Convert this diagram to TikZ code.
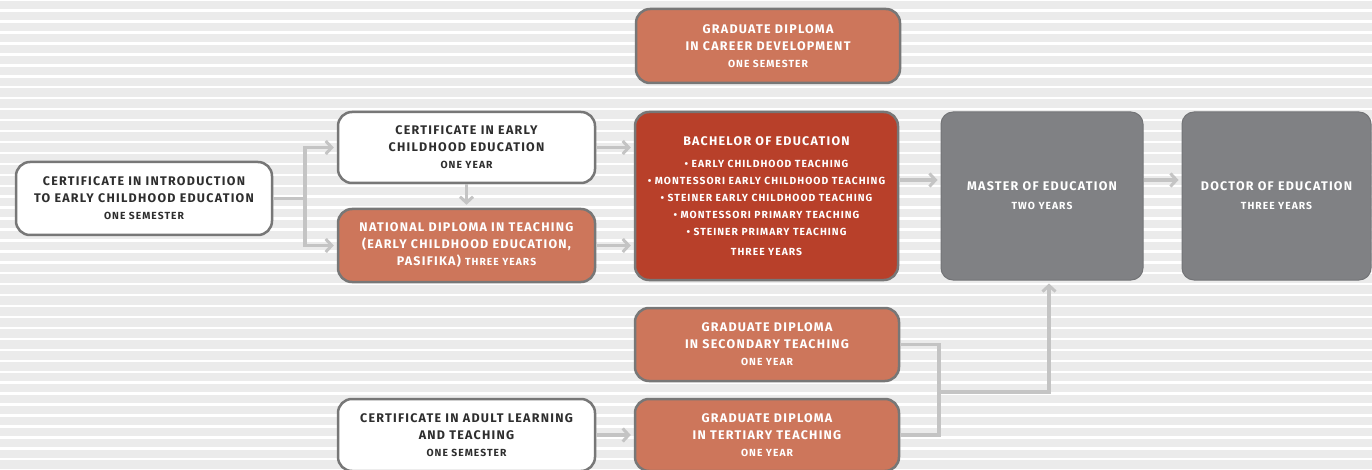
\documentclass[tikz,border=0pt]{standalone}
\usepackage{fontspec}
\setmainfont{Fira Sans}[LetterSpace=10]
\usetikzlibrary{arrows.meta}

\definecolor{stripegray}{HTML}{EBEBEB}
\definecolor{linkgray}{HTML}{C4C4C4}
\definecolor{boxedge}{HTML}{777777}
\definecolor{clayorange}{HTML}{CD765B}
\definecolor{brickred}{HTML}{B8402A}
\definecolor{slategray}{HTML}{808184}
\definecolor{inktext}{HTML}{2E2E2E}

\newcommand{\yrs}[1]{{\fontsize{10.3}{16}\selectfont #1}}

\begin{document}
\begin{tikzpicture}[x=1pt, y=-1pt,
    box/.style={draw=boxedge, line width=2.5pt, rounded corners=14pt, align=center,
        inner sep=0pt, font=\bfseries\fontsize{12.5}{17}\selectfont},
    plainbox/.style={box, fill=white, text=inktext},
    orangebox/.style={box, fill=clayorange, text=white},
    redbox/.style={box, fill=brickred, text=white},
    greybox/.style={box, draw=slategray!90!black, line width=1pt, fill=slategray, text=white,
        rounded corners=12pt},
    link/.style={draw=linkgray, line width=3.5pt},
    arrow/.style={link, -{Straight Barb[length=6pt, width=13pt, line width=3pt]}, shorten >=3pt}]

    % Background stripes
    \useasboundingbox (0,0) rectangle (1372,470);
    \clip (0,0) rectangle (1372,470);
    \fill[stripegray] (0,0) rectangle (1372,470);
    \foreach \k in {-1,...,43}
        \fill[white] (0,{10.7+10.94*\k-1.2}) rectangle (1372,{10.7+10.94*\k+1.2});

    % Boxes
    \node[orangebox, minimum width=264, minimum height=74] (career) at (768,46)
        {GRADUATE DIPLOMA\\IN CAREER DEVELOPMENT\\\yrs{ONE SEMESTER}};
    \node[plainbox, minimum width=256, minimum height=73] (intro) at (144,198.5)
        {CERTIFICATE IN INTRODUCTION\\TO EARLY CHILDHOOD EDUCATION\\\yrs{ONE SEMESTER}};
    \node[plainbox, minimum width=257, minimum height=71] (certece) at (466.5,147.5)
        {CERTIFICATE IN EARLY\\CHILDHOOD EDUCATION\\\yrs{ONE YEAR}};
    \node[orangebox, minimum width=257, minimum height=73] (natdip) at (466.5,245.5)
        {NATIONAL DIPLOMA IN TEACHING\\(EARLY CHILDHOOD EDUCATION,\\PASIFIKA) \yrs{THREE YEARS}};
    \node[redbox, minimum width=263, minimum height=168, font=\bfseries\fontsize{10.3}{17}\selectfont] (bachelor) at (766.5,196)
        {{\fontsize{12.5}{17}\selectfont BACHELOR OF EDUCATION}\\[5pt]
         • EARLY CHILDHOOD TEACHING\\
         • MONTESSORI EARLY CHILDHOOD TEACHING\\
         • STEINER EARLY CHILDHOOD TEACHING\\
         • MONTESSORI PRIMARY TEACHING\\
         • STEINER PRIMARY TEACHING\\[3pt]
         THREE YEARS};
    \node[greybox, minimum width=202, minimum height=168] (master) at (1042,196)
        {MASTER OF EDUCATION\\[2pt]\yrs{TWO YEARS}};
    \node[greybox, minimum width=189, minimum height=168] (doctor) at (1276.5,196)
        {DOCTOR OF EDUCATION\\[2pt]\yrs{THREE YEARS}};
    \node[orangebox, minimum width=264, minimum height=73] (secondary) at (767,344.5)
        {GRADUATE DIPLOMA\\IN SECONDARY TEACHING\\\yrs{ONE YEAR}};
    \node[orangebox, minimum width=264, minimum height=72] (tertiary) at (767,435)
        {GRADUATE DIPLOMA\\IN TERTIARY TEACHING\\\yrs{ONE YEAR}};
    \node[plainbox, minimum width=257, minimum height=72] (adult) at (466.5,435)
        {CERTIFICATE IN ADULT LEARNING\\AND TEACHING\\\yrs{ONE SEMESTER}};

    % Connectors
    \coordinate (split) at (305,198.5);
    \coordinate (upper) at (0,180);
    \coordinate (join) at (939,392);

    \draw[link] (intro.east) -- (split);
    \draw[arrow] (split) |- (certece.west);
    \draw[arrow] (split) |- (natdip.west);
    \draw[arrow] (certece.south) -- (natdip.north);
    \draw[arrow] (certece.east) -- (certece.east -| bachelor.west);
    \draw[arrow] (natdip.east) -- (natdip.east -| bachelor.west);
    \draw[arrow] (bachelor.east |- upper) -- (master.west |- upper);
    \draw[arrow] (master.east |- upper) -- (doctor.west |- upper);
    \draw[arrow] (adult.east) -- (tertiary.west);
    \draw[link] (secondary.east) -| (join);
    \draw[link] (tertiary.east) -| (join);
    \draw[arrow] (join) -| ([xshift=7pt]master.south);

\end{tikzpicture}
\end{document}
